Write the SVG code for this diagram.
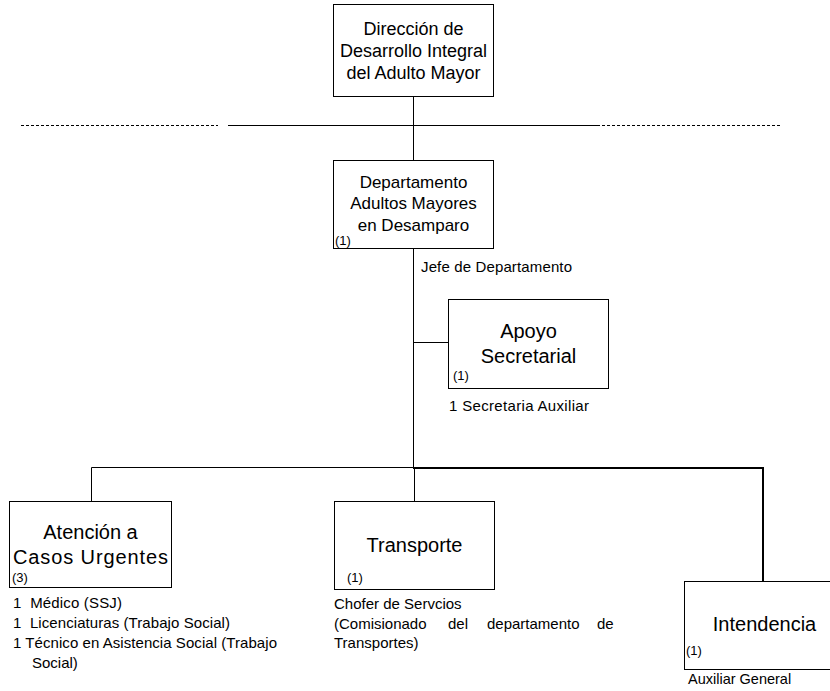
<svg xmlns="http://www.w3.org/2000/svg" width="830" height="691" viewBox="0 0 830 691">
  <style>
    text { font-family: "Liberation Sans", Arial, sans-serif; fill: #000; }
    .box { fill: #fff; stroke: #000; stroke-width: 1; }
    .t18 { font-size: 18px; text-anchor: middle; }
    .t17 { font-size: 17px; text-anchor: middle; }
    .t20 { font-size: 20px; text-anchor: middle; }
    .sm { font-size: 15px; }
    .num { font-size: 13px; }
    .ln { stroke: #000; stroke-width: 1; fill: none; }
    .thick { stroke: #000; stroke-width: 2; fill: none; }
    .dash { stroke: #000; stroke-width: 1; stroke-dasharray: 3 2; fill: none; }
  </style>

  <!-- connectors -->
  <g id="connectors">
    <line class="dash" x1="21" y1="125.5" x2="218" y2="125.5"/>
    <line class="ln" x1="228" y1="125.5" x2="597" y2="125.5"/>
    <line class="dash" x1="597" y1="125.5" x2="781" y2="125.5"/>
    <line class="ln" x1="413.5" y1="96" x2="413.5" y2="160"/>
    <line class="ln" x1="413.5" y1="248" x2="413.5" y2="467"/>
    <line class="ln" x1="413.5" y1="342.5" x2="448" y2="342.5"/>
    <polyline class="ln" points="91.5,501 91.5,467.5 413.5,467.5"/>
    <polyline class="thick" points="413,468 763,468 763,581"/>
    <line class="ln" x1="414.5" y1="467" x2="414.5" y2="501"/>
  </g>

  <!-- Dirección -->
  <g id="direccion">
    <rect class="box" x="333.5" y="4.5" width="160" height="92"/>
    <text class="t18" x="413.5" y="35">Dirección de</text>
    <text class="t18" x="413.5" y="57">Desarrollo Integral</text>
    <text class="t18" x="413.5" y="79">del Adulto Mayor</text>
  </g>

  <!-- Departamento -->
  <g id="departamento">
    <rect class="box" x="333.5" y="160.5" width="160" height="88"/>
    <text class="t17" x="413.5" y="188">Departamento</text>
    <text class="t17" x="413.5" y="209">Adultos Mayores</text>
    <text class="t17" x="413.5" y="231">en Desamparo</text>
    <text class="num" x="335" y="245">(1)</text>
    <text class="sm" x="421" y="272" textLength="151">Jefe de Departamento</text>
  </g>

  <!-- Apoyo Secretarial -->
  <g id="apoyo">
    <rect class="box" x="448.5" y="299.5" width="160" height="89"/>
    <text class="t20" x="528.5" y="338">Apoyo</text>
    <text class="t20" x="528.5" y="363">Secretarial</text>
    <text class="num" x="453" y="380">(1)</text>
    <text class="sm" x="449" y="411" textLength="140">1 Secretaria Auxiliar</text>
  </g>

  <!-- Atención a Casos Urgentes -->
  <g id="atencion">
    <rect class="box" x="9.5" y="501.5" width="162" height="86"/>
    <text class="t20" x="90.5" y="539">Atención a</text>
    <text class="t20" x="90.5" y="564" textLength="155">Casos Urgentes</text>
    <text class="num" x="12" y="582">(3)</text>
    <text class="sm" x="13" y="608" textLength="109" xml:space="preserve">1  Médico (SSJ)</text>
    <text class="sm" x="13" y="628" textLength="217" xml:space="preserve">1  Licenciaturas (Trabajo Social)</text>
    <text class="sm" x="13" y="648" textLength="264">1 Técnico en Asistencia Social (Trabajo</text>
    <text class="sm" x="32" y="668">Social)</text>
  </g>

  <!-- Transporte -->
  <g id="transporte">
    <rect class="box" x="334.5" y="501.5" width="160" height="88"/>
    <text class="t20" x="414.5" y="552">Transporte</text>
    <text class="num" x="347" y="582">(1)</text>
    <text class="sm" x="334" y="609">Chofer de Servcios</text>
    <text class="sm" y="629"><tspan x="334">(Comisionado</tspan><tspan x="448">del</tspan><tspan x="487">departamento</tspan><tspan x="597">de</tspan></text>
    <text class="sm" x="334" y="648">Transportes)</text>
  </g>

  <!-- Intendencia -->
  <g id="intendencia">
    <rect class="box" x="684.5" y="581.5" width="150" height="88"/>
    <text class="t20" x="764.5" y="631">Intendencia</text>
    <text class="num" x="686" y="655">(1)</text>
    <text class="sm" x="688" y="684" style="font-size:14.5px">Auxiliar General</text>
  </g>
</svg>
